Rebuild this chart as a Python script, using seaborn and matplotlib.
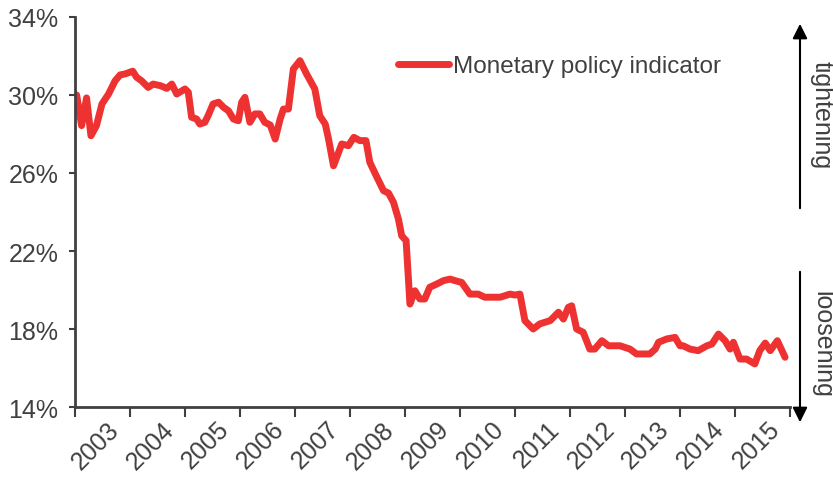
import numpy as np
import pandas as pd
import matplotlib
matplotlib.use("Agg")
import matplotlib.pyplot as plt
import matplotlib.ticker as mticker
import seaborn as sns

sns.set_theme(style="white")
plt.rcParams["font.family"] = ["Liberation Sans", "DejaVu Sans"]

# time in decimal years, values in percent
dates = [
    2003.03, 2003.12, 2003.21, 2003.29, 2003.39, 2003.49, 2003.61, 2003.73, 2003.82, 2003.91,
    2004.05, 2004.12, 2004.21, 2004.33, 2004.42, 2004.55, 2004.67, 2004.76, 2004.85, 2005.00,
    2005.06, 2005.12, 2005.21, 2005.27, 2005.36, 2005.42, 2005.51, 2005.61, 2005.70, 2005.79,
    2005.88, 2005.97, 2006.03, 2006.09, 2006.18, 2006.27, 2006.36, 2006.45, 2006.55, 2006.64,
    2006.73, 2006.79, 2006.88, 2006.97, 2007.09, 2007.21, 2007.36, 2007.45, 2007.55, 2007.61,
    2007.70, 2007.85, 2007.97, 2008.07, 2008.18, 2008.29, 2008.36, 2008.49, 2008.61, 2008.70,
    2008.79, 2008.88, 2008.94, 2009.02, 2009.09, 2009.18, 2009.27, 2009.36, 2009.45, 2009.58,
    2009.70, 2009.82, 2009.91, 2010.03, 2010.18, 2010.33, 2010.45, 2010.73, 2010.91, 2011.00,
    2011.09, 2011.18, 2011.33, 2011.45, 2011.64, 2011.79, 2011.88, 2011.97, 2012.03, 2012.12,
    2012.24, 2012.36, 2012.45, 2012.58, 2012.70, 2012.91, 2013.09, 2013.21, 2013.45, 2013.55,
    2013.61, 2013.76, 2013.91, 2014.00, 2014.06, 2014.18, 2014.33, 2014.49, 2014.58, 2014.70,
    2014.82, 2014.91, 2014.97, 2015.09, 2015.21, 2015.36, 2015.45, 2015.55, 2015.64, 2015.77,
    2015.91,
]

indicator = [
    30.00, 28.43, 29.85, 27.91, 28.43, 29.54, 30.05, 30.73, 31.03, 31.08,
    31.22, 30.91, 30.73, 30.39, 30.56, 30.48, 30.34, 30.56, 30.05, 30.31,
    30.14, 28.86, 28.77, 28.51, 28.60, 28.94, 29.54, 29.63, 29.37, 29.19,
    28.77, 28.68, 29.63, 29.88, 28.60, 29.03, 29.03, 28.60, 28.46, 27.74,
    28.77, 29.28, 29.28, 31.33, 31.76, 31.08, 30.31, 28.94, 28.51, 27.74,
    26.37, 27.49, 27.40, 27.83, 27.66, 27.66, 26.55, 25.78, 25.09, 24.97,
    24.50, 23.64, 22.78, 22.53, 19.28, 19.96, 19.54, 19.54, 20.14, 20.31,
    20.48, 20.56, 20.48, 20.39, 19.79, 19.79, 19.63, 19.63, 19.79, 19.74,
    19.79, 18.43, 18.00, 18.26, 18.43, 18.86, 18.51, 19.11, 19.19, 18.00,
    17.83, 16.97, 16.97, 17.40, 17.14, 17.14, 16.97, 16.72, 16.72, 16.97,
    17.32, 17.49, 17.57, 17.14, 17.14, 16.97, 16.89, 17.14, 17.23, 17.74,
    17.40, 16.97, 17.32, 16.46, 16.46, 16.21, 16.89, 17.28, 16.89, 17.40,
    16.55,
]

year_labels = [str(y) for y in range(2003, 2016)]
y_ticks = [14, 18, 22, 26, 30, 34]

df = pd.DataFrame({"date": dates, "value": indicator})

TEXT = "#404040"
RED = "#EE3131"

fig = plt.figure(figsize=(8.33, 4.81), dpi=100)
ax = fig.add_axes([75 / 833, 1 - 408 / 481, 715 / 833, 390 / 481])

sns.lineplot(
    data=df,
    x="date",
    y="value",
    ax=ax,
    color=RED,
    lw=5,
    label="Monetary policy indicator",
    solid_capstyle="round",
    solid_joinstyle="round",
)

ax.set_xlim(2003, 2016)
ax.set_ylim(14, 34)
ax.set_xlabel("")
ax.set_ylabel("")

ax.set_yticks(y_ticks)
ax.yaxis.set_major_formatter(mticker.FuncFormatter(lambda v, p: f"{int(v)}%"))

# year boundaries get tick marks, labels sit (invisible minor ticks) a bit
# right of mid-year so the rotated text ends near the year centre
ax.set_xticks(np.arange(2003, 2017))
ax.set_xticklabels([])
ax.set_xticks(np.arange(2003, 2016) + 0.74, minor=True)
ax.set_xticklabels(year_labels, minor=True, rotation=45, ha="right",
                   va="center", rotation_mode="anchor")

ax.tick_params(axis="x", which="major", length=7, width=1.5, color=TEXT,
               direction="out", bottom=True)
ax.tick_params(axis="x", which="minor", length=0, pad=13, labelsize=18,
               labelcolor=TEXT)
ax.tick_params(axis="y", length=4, width=1.5, color=TEXT, direction="out",
               left=True, labelsize=18, labelcolor=TEXT, pad=8)

for side in ["top", "right"]:
    ax.spines[side].set_visible(False)
for side in ["left", "bottom"]:
    ax.spines[side].set_color(TEXT)
    ax.spines[side].set_linewidth(2)

leg = ax.legend(
    loc="center left",
    bbox_to_anchor=(0.452, 0.874),
    frameon=False,
    fontsize=17.5,
    handlelength=2.1,
    handletextpad=0.15,
    borderpad=0,
    borderaxespad=0,
)
for t in leg.get_texts():
    t.set_color(TEXT)

# direction arrows on the right
ax.annotate(
    "", xy=(800 / 833, 1 - 22 / 481), xytext=(800 / 833, 1 - 212 / 481),
    xycoords="figure fraction", textcoords="figure fraction",
    arrowprops=dict(arrowstyle="-|>", color="black", lw=1.5, mutation_scale=22),
)
ax.annotate(
    "", xy=(800 / 833, 1 - 426 / 481), xytext=(800 / 833, 1 - 270 / 481),
    xycoords="figure fraction", textcoords="figure fraction",
    arrowprops=dict(arrowstyle="-|>", color="black", lw=1.5, mutation_scale=22),
)
fig.text(822 / 833, 1 - 115 / 481, "tightening", rotation=-90, ha="center",
         va="center", fontsize=18, color=TEXT)
fig.text(822 / 833, 1 - 344 / 481, "loosening", rotation=-90, ha="center",
         va="center", fontsize=18, color=TEXT)

fig.savefig("out.png", dpi=100)
